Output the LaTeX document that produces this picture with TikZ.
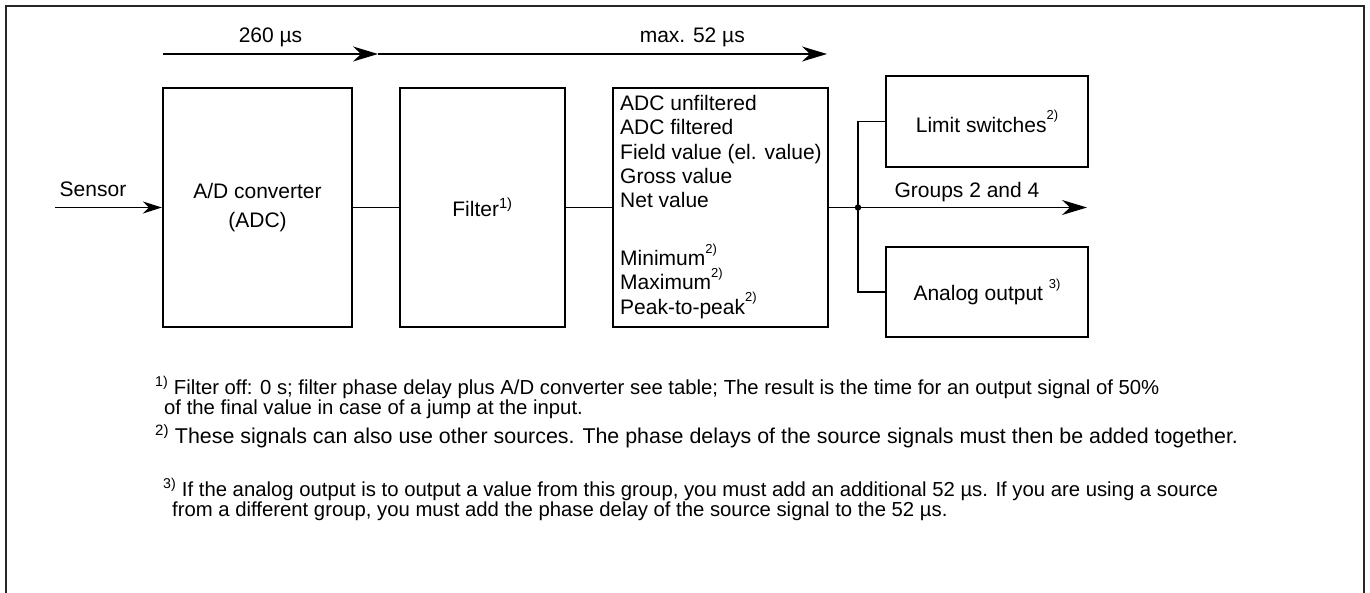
\documentclass[tikz,border=0pt]{standalone}
\usepackage{fontspec}
\setmainfont{Liberation Sans}
\usetikzlibrary{arrows.meta}

\newcommand{\fnmark}[1]{\raisebox{0.6em}{\fontsize{13}{13}\selectfont #1}}

\tikzset{
    blk/.style={draw, line width=2.2pt, inner sep=0pt, align=center},
    wire/.style={line width=1.8pt},
    flow/.style={wire, -{Stealth[length=25pt,width=15pt,inset=8pt]}},
    note/.style={anchor=base west, align=left, inner sep=0pt, font=\fontsize{20.3}{18}\selectfont},
}

\begin{document}
\begin{tikzpicture}[x=1pt,y=-1pt,font=\fontsize{21}{24.3}\selectfont]
    \useasboundingbox (0,0) rectangle (1370,593);
    \draw[line width=2.5pt,black!85] (6,593) -- (6,6) -- (1364,6) -- (1364,593);

    % blocks
    \node[blk, minimum width=189pt, minimum height=239pt] (adc) at (257.5,207.5) {A/D converter\\[4pt](ADC)};
    \node[blk, minimum width=165pt, minimum height=239pt] (filt) at (482.5,207.5) {Filter\textsuperscript{1)}};
    \node[blk, minimum width=215pt, minimum height=239pt] (vals) at (720.5,207.5) {};
    \node[anchor=north west, align=left, inner sep=0pt] (valtxt) at (620,95) {ADC unfiltered\\ADC filtered\\Field value (el. value)\\Gross value\\Net value\\[33.7pt]Minimum\fnmark{2)}\\Maximum\fnmark{2)}\\Peak-to-peak\fnmark{2)}};
    \node[blk, minimum width=202pt, minimum height=91pt] (lim) at (987,121.5) {Limit switches\fnmark{2)}};
    \node[blk, minimum width=202pt, minimum height=90pt] (ana) at (987,292) {Analog output \fnmark{3)}};

    % timing
    \coordinate (t0) at (163,54);
    \coordinate (t1) at (378,54);
    \coordinate (t2) at (827,54);
    \draw[flow] (t0) -- node[midway,yshift=17pt] (tlbl1) {260 µs} (t1);
    \draw[flow] (t1) -- node[pos=0.7,yshift=17pt] (tlbl2) {max. 52 µs} (t2);

    % signal path
    \coordinate (sens) at (55,207.5);
    \node (senslbl) at (93,189) {Sensor};
    \draw[wire, -{Stealth[length=19pt,width=12pt,inset=6pt]}] (sens) -- (adc.west);
    \draw[wire] (adc) -- (filt);
    \draw[wire] (filt) -- (vals);
    \coordinate (jn) at (858,207.5);
    \coordinate (grp) at (1087,207.5);
    \draw[wire] (vals.east) -- (jn);
    \draw[wire] (jn) |- (lim.west);
    \draw[wire] (jn) |- (ana.west);
    \draw[flow] (jn) -- node[pos=0.476,yshift=15pt] (grplbl) {Groups 2 and 4} (grp);
    \fill (jn) circle (3.2pt);

    % footnotes
    \node[note] (fn1) at (155,414) {\textsuperscript{1)} Filter off: 0 s; filter phase delay plus A/D converter see table; The result is the time for an output signal of 50\%\\\hspace{9pt}of the final value in case of a jump at the input.};
    \node[note, font=\fontsize{21.4}{18}\selectfont] (fn2) at (155,443) {\textsuperscript{2)} These signals can also use other sources. The phase delays of the source signals must then be added together.};
    \node[note] (fn3) at (163,516) {\textsuperscript{3)} If the analog output is to output a value from this group, you must add an additional 52 µs. If you are using a source\\\hspace{9pt}from a different group, you must add the phase delay of the source signal to the 52 µs.};
\end{tikzpicture}
\end{document}
